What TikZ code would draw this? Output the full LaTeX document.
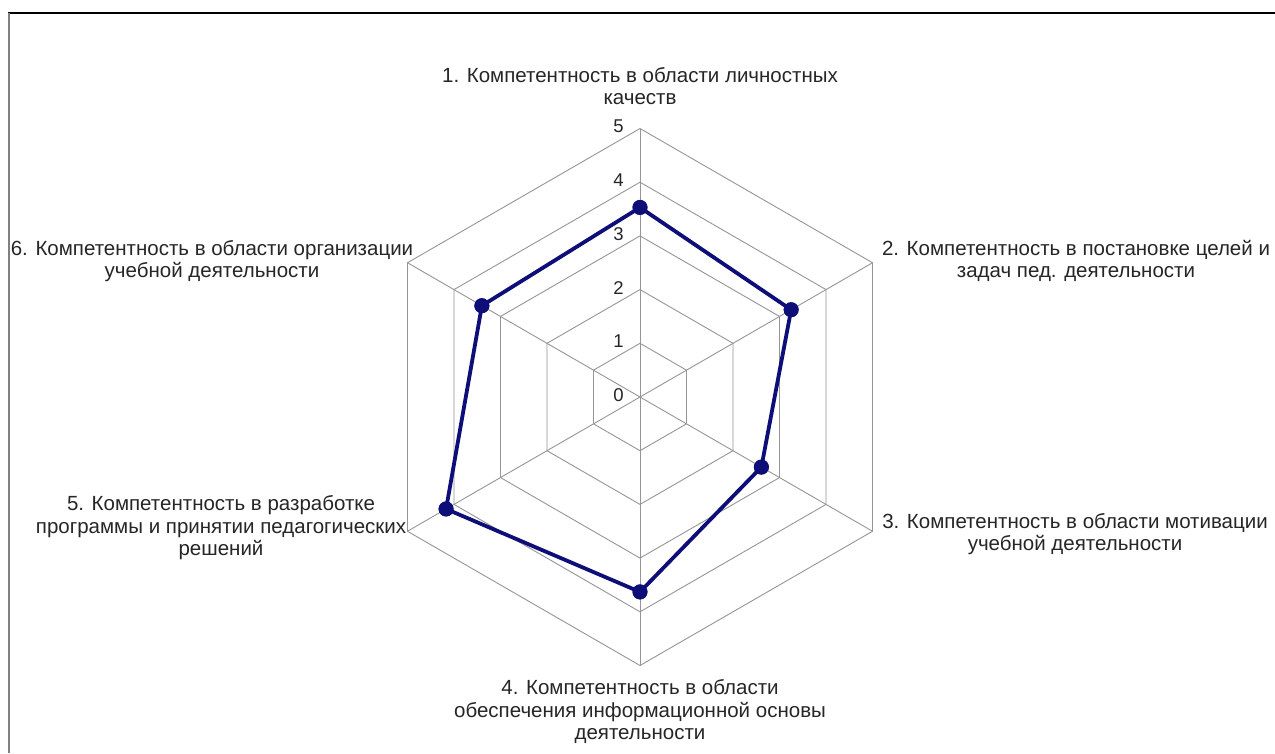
\documentclass[tikz,border=0pt]{standalone}
\usepackage{fontspec}
\setmainfont{Liberation Sans}
\definecolor{navyc}{RGB}{14,14,120}
\definecolor{gridc}{RGB}{150,150,150}
\begin{document}
\begin{tikzpicture}[x=1pt,y=1pt,
  lab/.style={font=\fontsize{20.5}{22.5}\selectfont, align=center, inner sep=0pt, text=black!85},
  tick/.style={font=\fontsize{18.5}{20}\selectfont, inner sep=0pt, text=black!85},
  gridline/.style={draw=gridc, line width=0.9pt},
  series/.style={draw=navyc, line width=3.8pt, line join=round},
  dot/.style={circle, fill=navyc, inner sep=0pt, minimum size=15pt}]
\useasboundingbox (0,-753) rectangle (1275,0);
\fill[white] (0,-753) rectangle (1275,0);
\draw[black, line width=2pt] (8,-12.5) -- (1275,-12.5);
\draw[gray, line width=2pt] (8.5,-12.5) -- (8.5,-753);
\begin{scope}[shift={(640,-397)}]
  \def\u{53.7}
  \foreach \lv in {1,...,5}{
    \draw[gridline] (90:{\lv*\u}) \foreach \k in {1,...,5}{ -- ({90-60*\k}:{\lv*\u}) } -- cycle;
  }
  \foreach \k in {0,...,5}{
    \draw[gridline] (0,0) -- ({90-60*\k}:{5*\u});
  }
  \foreach \lv in {0,...,5}{
    \node[tick] (t\lv) at (-21.5,{\lv*\u+2}) {\lv};
  }
  \node[dot] (p1) at (90:{3.53*\u}) {};
  \node[dot] (p2) at (30:{3.25*\u}) {};
  \node[dot] (p3) at (-30:{2.61*\u}) {};
  \node[dot] (p4) at (-90:{3.63*\u}) {};
  \node[dot] (p5) at (-150:{4.17*\u}) {};
  \node[dot] (p6) at (150:{3.4*\u}) {};
  \draw[series] (p1.center) -- (p2.center) -- (p3.center) -- (p4.center) -- (p5.center) -- (p6.center) -- cycle;
  \foreach \i in {1,...,6}{ \fill[navyc] (p\i.center) circle (7.5); }
\end{scope}
\node[lab] (l1) at (640,-86) {1. Компетентность в области личностных\\качеств};
\node[lab] (l2) at (1076,-261) {2. Компетентность в постановке целей и\\задач пед. деятельности};
\node[lab] (l3) at (1075,-534) {3. Компетентность в области мотивации\\учебной деятельности};
\node[lab] (l4) at (640,-712) {4. Компетентность в области\\обеспечения информационной основы\\деятельности};
\node[lab] (l5) at (221,-528) {5. Компетентность в разработке\\программы и принятии педагогических\\решений};
\node[lab] (l6) at (212,-261) {6. Компетентность в области организации\\учебной деятельности};
\end{tikzpicture}
\end{document}
